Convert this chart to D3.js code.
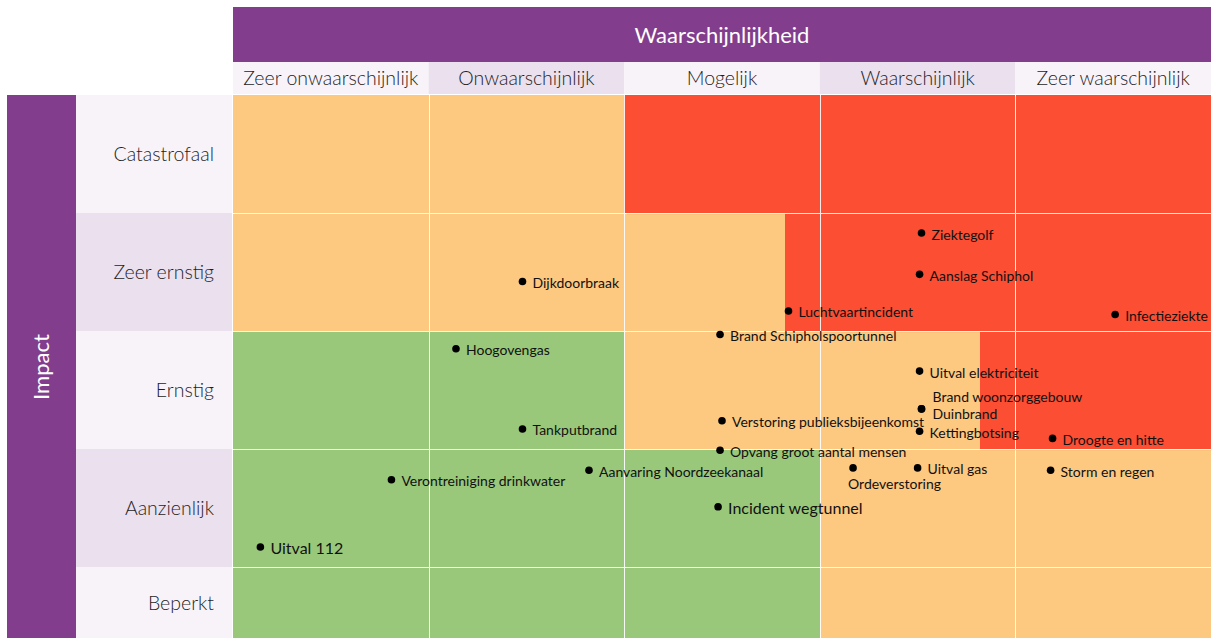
<!DOCTYPE html>
<html>
<head>
<meta charset="utf-8">
<script src="https://cdn.jsdelivr.net/npm/d3@7"></script>
<style>
  body { margin: 0; background: #fff; }
  svg { display: block; font-family: Lato, "Open Sans", sans-serif; }
</style>
</head>
<body>
<svg></svg>
<script>
// axis categories
const likelihoodLabels = ["Zeer onwaarschijnlijk", "Onwaarschijnlijk", "Mogelijk", "Waarschijnlijk", "Zeer waarschijnlijk"];
const impactLabels = ["Catastrofaal", "Zeer ernstig", "Ernstig", "Aanzienlijk", "Beperkt"];

// risk zones per impact row (same order as impactLabels), on the 0-5 likelihood scale
const orangeFrom = [0, 0, 2, 3, 3];
const redFrom = [2, 2.82, 3.82, 5, 5];

// scenarios: likelihood (0-5) and impact (0-5, Beperkt = 0-1 ... Catastrofaal = 4-5)
const scenarios = [
	"Uitval 112", "Verontreiniging drinkwater", "Hoogovengas", "Dijkdoorbraak", "Tankputbrand",
	"Aanvaring Noordzeekanaal", "Brand Schipholspoortunnel", "Verstoring publieksbijeenkomst",
	"Opvang groot aantal mensen", "Incident wegtunnel", "Luchtvaartincident", "Ziektegolf",
	"Aanslag Schiphol", "Infectieziekte", "Uitval elektriciteit", "Brand woonzorggebouw",
	"Duinbrand", "Kettingbotsing", "Droogte en hitte", "Storm en regen", "Uitval gas", "Ordeverstoring"
];
const likelihood = [
	0.14, 0.81, 1.14, 1.48, 1.48,
	1.82, 2.49, 2.5,
	2.49, 2.48, 2.84, 3.52,
	3.51, 4.51, 3.51, 3.52,
	3.52, 3.51, 4.19, 4.18, 3.5, 3.17
];
const impact = [
	1.17, 1.74, 2.85, 3.42, 2.17,
	1.82, 2.97, 2.24,
	1.99, 1.51, 3.17, 3.83,
	3.48, 3.14, 2.66, 2.34,
	2.34, 2.15, 2.09, 1.82, 1.84, 1.84
];

const size = { w: 1211, h: 638 };
const plot = { l: 233, r: 1211, t: 95, b: 685 };
const colors = { green: "#9ac87b", orange: "#fdc880", red: "#fc4e33", purple: "#823e8d", light: "#f8f3f9", dark: "#ebe0ee" };

const svg = d3.select("svg").attr("width", size.w).attr("height", size.h);

const x = d3.scaleLinear().domain([0, 5]).range([plot.l, plot.r]);
const y = d3.scaleLinear().domain([0, 5]).range([plot.b, plot.t]);
const xBand = d3.scaleBand().domain(likelihoodLabels).range([plot.l, plot.r]);
const yBand = d3.scaleBand().domain(impactLabels).range([plot.t, plot.b]);

// header
svg.append("rect")
	.attr("x", plot.l).attr("y", 7)
	.attr("width", plot.r - plot.l).attr("height", 55)
	.attr("fill", colors.purple);
svg.append("text")
	.attr("x", (plot.l + plot.r) / 2).attr("y", 43)
	.attr("text-anchor", "middle")
	.attr("fill", "#fff")
	.attr("font-size", 22)
	.text("Waarschijnlijkheid");

const colHead = svg.append("g");
colHead.selectAll("rect")
	.data(likelihoodLabels)
	.join("rect")
	.attr("x", (d) => xBand(d)).attr("y", 62)
	.attr("width", xBand.bandwidth()).attr("height", 32)
	.attr("fill", (d, i) => (i % 2 ? colors.dark : colors.light));
colHead.selectAll("text")
	.data(likelihoodLabels)
	.join("text")
	.attr("x", (d) => xBand(d) + xBand.bandwidth() / 2).attr("y", 85)
	.attr("text-anchor", "middle")
	.attr("fill", "#1e1e1e")
	.attr("font-size", 19.5)
	.attr("font-weight", 300)
	.text((d) => d);

// impact side
svg.append("rect")
	.attr("x", 7).attr("y", plot.t)
	.attr("width", 69).attr("height", plot.b - plot.t)
	.attr("fill", colors.purple);
svg.append("text")
	.attr("transform", "translate(49,367) rotate(-90)")
	.attr("text-anchor", "middle")
	.attr("fill", "#fff")
	.attr("font-size", 22)
	.text("Impact");

// label sits in the middle of the visible part of each row
const visibleMid = (d) => (yBand(d) + Math.min(yBand(d) + yBand.bandwidth(), size.h)) / 2;

const rowHead = svg.append("g");
rowHead.selectAll("rect")
	.data(impactLabels)
	.join("rect")
	.attr("x", 76).attr("y", (d) => yBand(d))
	.attr("width", plot.l - 77).attr("height", yBand.bandwidth())
	.attr("fill", (d, i) => (i % 2 ? colors.dark : colors.light));
rowHead.selectAll("text")
	.data(impactLabels)
	.join("text")
	.attr("x", 214).attr("y", (d) => visibleMid(d) + 7)
	.attr("text-anchor", "end")
	.attr("fill", "#1e1e1e")
	.attr("font-size", 19.5)
	.attr("font-weight", 300)
	.text((d) => d);

// risk zones
const zones = [];
impactLabels.forEach((row, i) => {
	zones.push({ row, from: 0, to: orangeFrom[i], color: colors.green });
	zones.push({ row, from: orangeFrom[i], to: redFrom[i], color: colors.orange });
	zones.push({ row, from: redFrom[i], to: 5, color: colors.red });
});
svg.append("g")
	.selectAll("rect")
	.data(zones.filter((z) => z.to > z.from))
	.join("rect")
	.attr("x", (d) => x(d.from)).attr("y", (d) => yBand(d.row))
	.attr("width", (d) => x(d.to) - x(d.from)).attr("height", yBand.bandwidth())
	.attr("fill", (d) => d.color)
	.attr("shape-rendering", "crispEdges");

// white grid
const grid = svg.append("g").attr("stroke", "#fff").attr("stroke-width", 1).attr("opacity", 0.9);
grid.selectAll("line.v")
	.data(likelihoodLabels.slice(1))
	.join("line")
	.attr("x1", (d) => Math.round(xBand(d)) + 0.5).attr("x2", (d) => Math.round(xBand(d)) + 0.5)
	.attr("y1", plot.t).attr("y2", plot.b);
grid.selectAll("line.h")
	.data(impactLabels.slice(1))
	.join("line")
	.attr("x1", plot.l).attr("x2", plot.r)
	.attr("y1", (d) => Math.round(yBand(d)) + 0.5).attr("y2", (d) => Math.round(yBand(d)) + 0.5);

// scenarios
const points = scenarios.map((name, i) => ({ name, u: likelihood[i], v: impact[i] }));
const labelShift = {
	"Brand woonzorggebouw": [11, -7],
	"Duinbrand": [11, 10],
	"Ordeverstoring": [-5, 21]
};
const bigLabels = new Set(["Uitval 112", "Incident wegtunnel"]);

const pts = svg.append("g");
pts.selectAll("circle")
	.data(points)
	.join("circle")
	.attr("cx", (d) => x(d.u)).attr("cy", (d) => y(d.v))
	.attr("r", 3.8)
	.attr("fill", "#000");
pts.selectAll("text")
	.data(points)
	.join("text")
	.attr("x", (d) => x(d.u) + (labelShift[d.name] ? labelShift[d.name][0] : 10))
	.attr("y", (d) => y(d.v) + (labelShift[d.name] ? labelShift[d.name][1] : (bigLabels.has(d.name) ? 7.5 : 6.5)))
	.attr("fill", "#111")
	.attr("font-size", (d) => (bigLabels.has(d.name) ? 16 : 14))
	.text((d) => d.name);
</script>
</body>
</html>
